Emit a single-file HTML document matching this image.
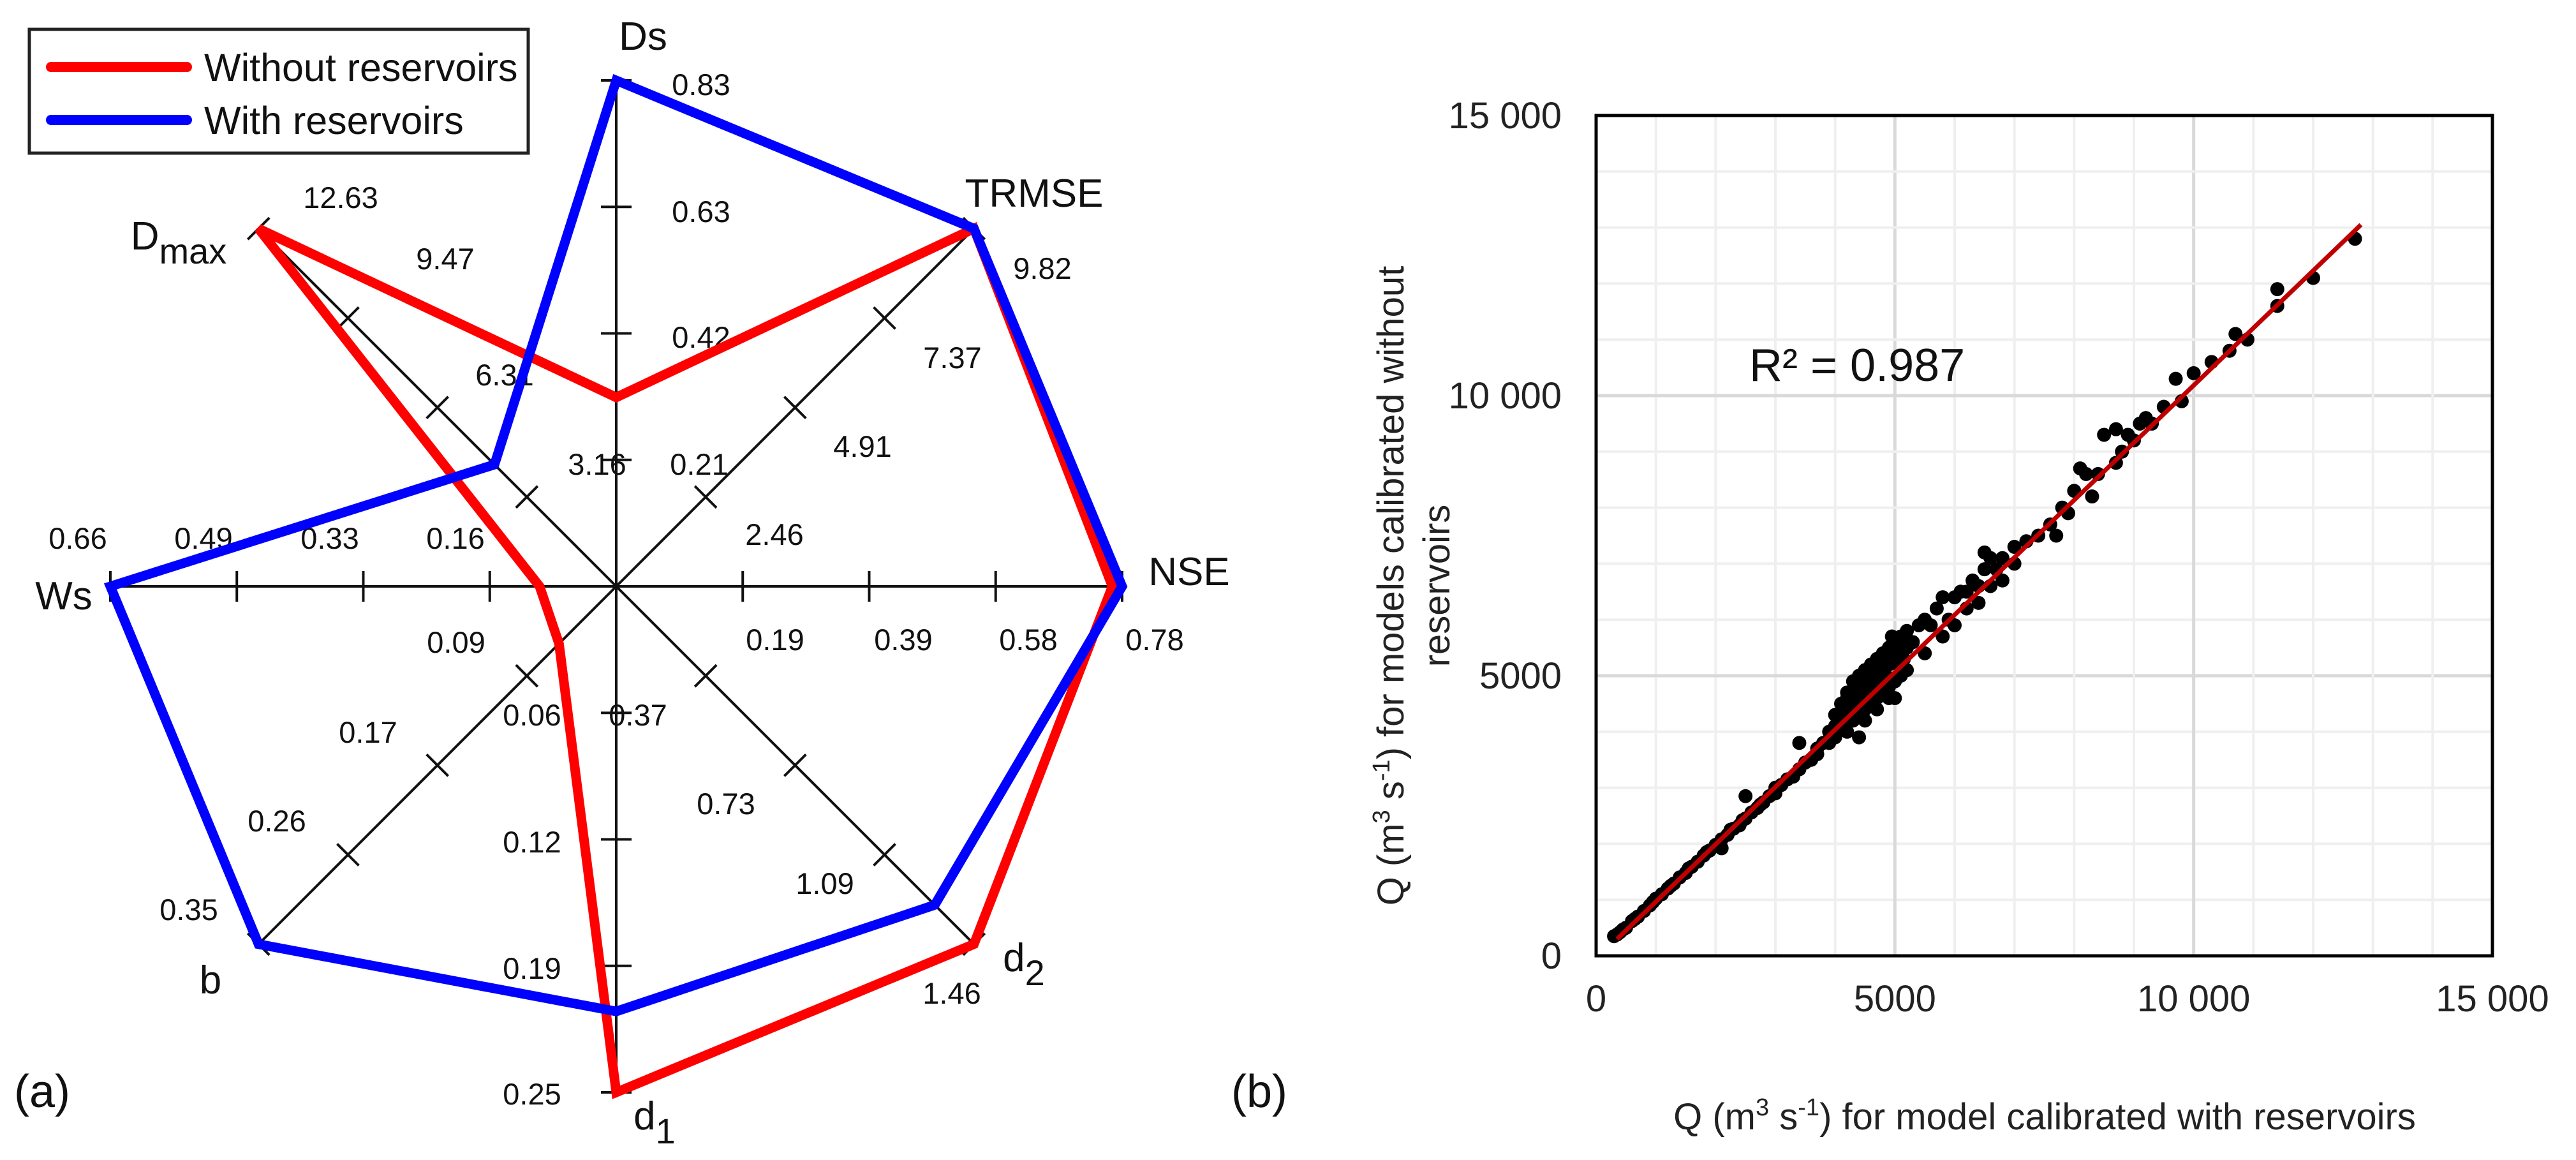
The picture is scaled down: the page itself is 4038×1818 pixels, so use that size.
<!DOCTYPE html>
<html><head><meta charset="utf-8"><style>
html,body{margin:0;padding:0;background:#fff}
svg{display:block;font-family:"Liberation Sans",Arial,sans-serif}
</style></head><body>
<svg id="fig" width="4038" height="1818" viewBox="0 0 4038 1818" xmlns="http://www.w3.org/2000/svg">
<rect width="4038" height="1818" fill="#fff"/>
<g id="radar"></g>
<g id="scatter"></g>
<g>
<rect x="46" y="46" width="782" height="194" fill="#fff" stroke="#222" stroke-width="5"/>
<line x1="80" y1="105" x2="293" y2="105" stroke="#f00" stroke-width="16" stroke-linecap="round"/>
<text x="320" y="127" font-size="61" fill="#111">Without reservoirs</text>
<line x1="80" y1="188" x2="293" y2="188" stroke="#00f" stroke-width="16" stroke-linecap="round"/>
<text x="320" y="210" font-size="61" fill="#111">With reservoirs</text>
</g>
<text x="22" y="1735" font-size="72" fill="#111">(a)</text>
<text x="1930" y="1735" font-size="72" fill="#111">(b)</text>
</svg>
<script>
// ---------- Radar data ----------
const axisNames = ["Ds","TRMSE","NSE","d2","d1","b","Ws","Dmax"];
const axisMax = [0.83, 9.82, 0.78, 1.46, 0.25, 0.35, 0.66, 12.63];
const axisTickLabels = [
  ["0.21","0.42","0.63","0.83"],
  ["2.46","4.91","7.37","9.82"],
  ["0.19","0.39","0.58","0.78"],
  ["0.37","0.73","1.09","1.46"],
  ["0.06","0.12","0.19","0.25"],
  ["0.09","0.17","0.26","0.35"],
  ["0.16","0.33","0.49","0.66"],
  ["3.16","6.31","9.47","12.63"]
];
const withoutReservoirs = [0.31, 9.82, 0.765, 1.46, 0.25, 0.056, 0.10, 12.63];
const withReservoirs = [0.83, 9.82, 0.78, 1.30, 0.21, 0.35, 0.66, 4.3];

// ---------- Scatter data ----------
const scatterX = [300,350,400,450,500,600,650,700,800,900,950,1000,1100,1200,1250,1300,1400,1500,1550,1600,1700,1800,1850,1900,2000,2100,2100,2200,2250,2300,2400,2450,2500,2500,2600,2700,2750,2800,2900,3000,3000,3100,3200,3300,3400,3400,3500,3600,3700,3700,3800,3900,3900,4000,
4000,4000,4100,4100,4200,4200,4300,4300,4300,4400,4400,4400,4500,4500,4500,4600,4600,4600,4700,4700,4700,4800,4800,4800,4900,4900,4900,5000,5000,5000,5100,5100,5100,5200,5200,5200,4400,4500,4700,4900,5000,4600,4800,4350,4650,4950,
4050,4150,4250,4350,4450,4550,4650,4750,4850,4950,5050,5150,4150,4250,4450,4550,4750,4850,5050,5150,4200,4400,4600,4800,5000,
5300,5400,5500,5500,5600,5700,5800,5800,5900,6000,6000,6100,6200,6200,6300,6400,6400,6500,6600,6600,6700,6800,6800,7000,7000,6500,7200,7400,7600,7700,7800,7900,8000,8100,8200,8300,8400,8500,8700,8700,8800,8900,9000,9100,9200,9300,9500,9700,9800,10000,10300,10600,10700,10900,11400,11400,12000,12700];
const scatterY = [350,380,420,470,500,620,660,700,800,900,960,1020,1100,1200,1250,1290,1400,1480,1560,1590,1680,1790,1850,1880,1980,1920,2080,2160,2250,2270,2330,2420,2450,2850,2560,2640,2700,2740,2850,2900,3000,3050,3150,3200,3800,3330,3450,3500,3600,3700,3800,3800,4000,3900,
4100,4300,4500,4200,4700,4000,4900,4400,4200,5000,4600,4300,5100,4800,4400,5200,4900,4500,5300,5000,4600,5400,5100,4700,5500,5200,4800,5600,5300,4900,5700,5400,5000,5800,5500,5100,3900,4200,4400,4600,4600,4700,4900,4600,5100,5700,
4300,4400,4550,4700,4850,5000,5150,5250,5350,5450,5550,5650,4050,4250,4500,4650,4850,5000,5200,5300,4600,4800,5000,5200,5400,
5600,5900,6000,5400,5900,6200,6400,5700,6000,6400,5900,6500,6500,6200,6700,6600,6300,6900,7100,6600,6900,7100,6700,7000,7300,7200,7400,7500,7700,7500,8000,7900,8300,8700,8600,8200,8600,9300,9400,8800,9000,9300,9200,9500,9600,9500,9800,10300,9900,10400,10600,10800,11100,11000,11900,11600,12100,12800];
const fitX = [350, 12800];
const fitY = [300, 13050];
const scatterTicks = [0, 5000, 10000, 15000];
const scatterTickLabels = ["0","5000","10 000","15 000"];

const NS = "http://www.w3.org/2000/svg";
function mk(parent, tag, attrs){ const e=document.createElementNS(NS,tag); for(const k in attrs) e.setAttribute(k,attrs[k]); parent.appendChild(e); return e; }

// ---------- Radar drawing ----------
const radar = document.getElementById('radar');
const CX = 966, CY = 919, R = 793;
const angles = [90,45,0,-45,-90,-135,180,135];
function rpt(i, frac){ const a=angles[i]*Math.PI/180; return [CX+R*frac*Math.cos(a), CY-R*frac*Math.sin(a)]; }
// layout: tick-label centre positions (px), per axis, inner to outer
const lblPos = [
  [[1096,727],[1099,528],[1099,331],[1099,132]],
  [[1214,837],[1352,699],[1493,560],[1634,420]],
  [[1215,1002],[1416,1002],[1612,1002],[1810,1002]],
  [[1000,1120],[1138,1259],[1293,1384],[1492,1556]],
  [[834,1120],[834,1319],[834,1517],[834,1714]],
  [[715,1006],[577,1147],[434,1286],[296,1425]],
  [[714,843],[517,843],[319,843],[122,843]],
  [[936,727],[791,587],[698,405],[534,309]]
];
const namePos = [[1008,56],[1621,302],[1864,895],[1605,1500],[1026,1748],[330,1535],[100,933],[280,369]];
for(let i=0;i<8;i++){
  const e=rpt(i,1);
  const ax = mk(radar,'line',{x1:CX,y1:CY,x2:e[0],y2:e[1],stroke:'#111','stroke-width':4});
  
  
  const a=angles[i]*Math.PI/180, px=-Math.sin(a), py=-Math.cos(a);
  for(let k=1;k<=4;k++){
    const p=rpt(i,k/4);
    const t = mk(radar,'line',{x1:p[0]-px*24,y1:p[1]-py*24,x2:p[0]+px*24,y2:p[1]+py*24,stroke:'#111','stroke-width':4});
    
    
    const lp = lblPos[i][k-1];
    const tl = mk(radar,'text',{x:lp[0],y:lp[1]+17,'font-size':47,'text-anchor':'middle',fill:'#111'});
    tl.textContent = axisTickLabels[i][k-1];
    
    
  }
  const np = namePos[i];
  const nt = mk(radar,'text',{x:np[0],y:np[1]+22,'font-size':62,'text-anchor':'middle',fill:'#111'});
  
  
  const nm = axisNames[i];
  if(nm==='Dmax'||nm==='d1'||nm==='d2'){
    const base = nm==='Dmax'?'D':'d', sub = nm==='Dmax'?'max':nm.slice(1);
    const s1=document.createElementNS(NS,'tspan'); s1.textContent=base; nt.appendChild(s1);
    const s2=document.createElementNS(NS,'tspan'); s2.setAttribute('dy','22'); s2.setAttribute('font-size','56'); s2.textContent=sub; nt.appendChild(s2);
  } else nt.textContent = nm;
}
function poly(vals, color, name){
  const pts = vals.map((v,i)=>rpt(i, v/axisMax[i]).join(',')).join(' ');
  const p = mk(radar,'polygon',{points:pts,fill:'none',stroke:color,'stroke-width':15,'stroke-linejoin':'miter'});
  
  
}
poly(withoutReservoirs,'#ff0000','series-without-reservoirs');
poly(withReservoirs,'#0000ff','series-with-reservoirs');

// ---------- Scatter drawing ----------
const sc = document.getElementById('scatter');
const PX0=2502, PX1=3907, PY0=1498, PY1=181;
const sx = v => PX0 + (v/15000)*(PX1-PX0);
const sy = v => PY0 - (v/15000)*(PY0-PY1);
for(let g=1000; g<15000; g+=1000){
  const major = g%5000===0;
  const c = major?'#d9d9d9':'#efefef', w = major?5:4;
  const vl = mk(sc,'line',{x1:sx(g),y1:PY1,x2:sx(g),y2:PY0,stroke:c,'stroke-width':w});
  
  
  const hl = mk(sc,'line',{x1:PX0,y1:sy(g),x2:PX1,y2:sy(g),stroke:c,'stroke-width':w});
  
  
}
for(let i=0;i<scatterX.length;i++){
  const d = mk(sc,'circle',{cx:sx(scatterX[i]),cy:sy(scatterY[i]),r:11,fill:'#000'});
  
  
}
const fl = mk(sc,'line',{x1:sx(fitX[0]),y1:sy(fitY[0]),x2:sx(fitX[1]),y2:sy(fitY[1]),stroke:'#c00000','stroke-width':7});


const fr = mk(sc,'rect',{x:PX0,y:PY1,width:PX1-PX0,height:PY0-PY1,fill:'none',stroke:'#000','stroke-width':5});


for(let i=0;i<scatterTicks.length;i++){
  const yt = mk(sc,'text',{x:2448,y:sy(scatterTicks[i])+20,'font-size':58,'text-anchor':'end',fill:'#222'});
  yt.textContent = scatterTickLabels[i];
  
  
  const xt = mk(sc,'text',{x:sx(scatterTicks[i]),y:1585,'font-size':58,'text-anchor':'middle',fill:'#222'});
  xt.textContent = scatterTickLabels[i];
  
  
}
</script>
<svg style="position:absolute;left:0;top:0" width="4038" height="1818">
<text x="2742" y="597" font-size="72" font-family="Liberation Sans, sans-serif" fill="#111">R² = 0.987</text>
<text x="3205" y="1770" font-size="58" font-family="Liberation Sans, sans-serif" text-anchor="middle" fill="#222">Q (m<tspan dy="-22" font-size="38">3</tspan><tspan dy="22"> s</tspan><tspan dy="-22" font-size="38">-1</tspan><tspan dy="22">) for model calibrated with reservoirs</tspan></text>
<g transform="translate(2200,918) rotate(-90)">
<text x="0" y="0" font-size="58" font-family="Liberation Sans, sans-serif" text-anchor="middle" fill="#222">Q (m<tspan dy="-22" font-size="38">3</tspan><tspan dy="22"> s</tspan><tspan dy="-22" font-size="38">-1</tspan><tspan dy="22">) for models calibrated without</tspan></text>
<text x="0" y="72" font-size="58" font-family="Liberation Sans, sans-serif" text-anchor="middle" fill="#222">reservoirs</text>
</g>
</svg>
</body></html>
